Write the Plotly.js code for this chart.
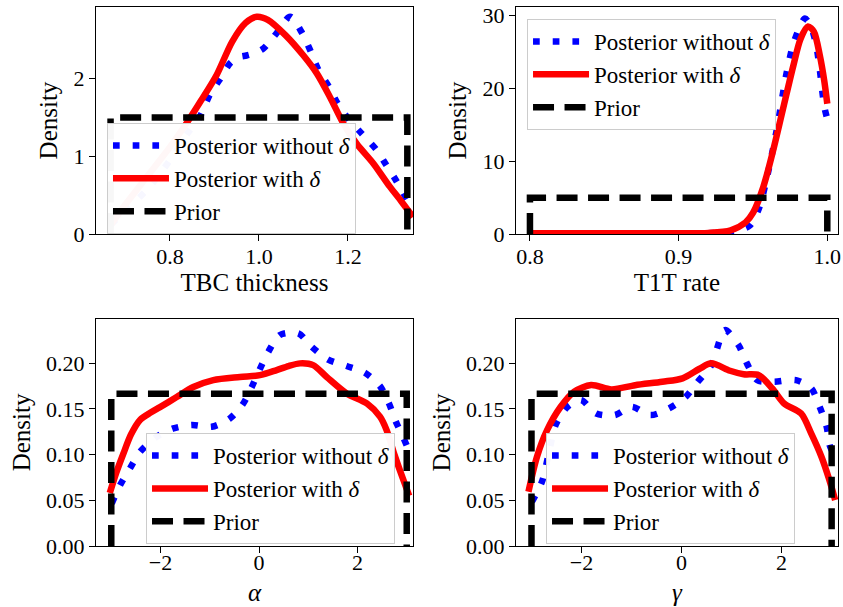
<!DOCTYPE html>
<html><head><meta charset="utf-8">
<script src="https://cdn.plot.ly/plotly-3.0.1.min.js"></script>
<style>html,body{margin:0;padding:0;background:#fff}</style>
</head><body><div id="chart" style="width:843px;height:607px"></div>
<script>
// ---- Panel 1: TBC thickness ----
const tbcWithoutX = [0.667, 0.70, 0.75, 0.80, 0.84, 0.867, 0.89, 0.912, 0.935, 0.955, 0.972, 0.99, 1.01, 1.04, 1.07, 1.096, 1.115, 1.134, 1.157, 1.176, 1.20, 1.23, 1.264, 1.286, 1.309, 1.333];
const tbcWithoutY = [0.12, 0.30, 0.58, 0.95, 1.30, 1.51, 1.80, 1.99, 2.20, 2.28, 2.30, 2.33, 2.39, 2.59, 2.80, 2.60, 2.37, 2.11, 1.90, 1.69, 1.49, 1.30, 1.085, 0.89, 0.68, 0.44];
const tbcWithX = [0.665, 0.70, 0.75, 0.80, 0.84, 0.87, 0.905, 0.94, 0.97, 0.995, 1.02, 1.06, 1.10, 1.13, 1.16, 1.19, 1.22, 1.257, 1.294, 1.32, 1.346];
const tbcWithY = [0.10, 0.38, 0.75, 1.12, 1.45, 1.72, 2.05, 2.48, 2.72, 2.80, 2.76, 2.56, 2.30, 2.07, 1.76, 1.42, 1.16, 0.91, 0.61, 0.42, 0.22];
const tbcPriorX = [0.6667, 0.6667, 1.3333, 1.3333];
const tbcPriorY = [0, 1.5, 1.5, 0];

// ---- Panel 2: T1T rate ----
const t1tWithoutX = [0.80, 0.90, 0.93, 0.94, 0.948, 0.954, 0.959, 0.966, 0.9725, 0.977, 0.981, 0.985, 0.989, 0.9925, 0.995, 0.998, 1.0];
const t1tWithoutY = [0.05, 0.05, 0.2, 0.5, 1.2, 3.5, 7.4, 14.3, 22.0, 26.0, 28.2, 29.6, 28.5, 26.0, 22.5, 17.5, 15.8];
const t1tWithX = [0.80, 0.85, 0.90, 0.92, 0.935, 0.945, 0.950, 0.957, 0.9636, 0.970, 0.977, 0.982, 0.987, 0.991, 0.995, 0.998, 1.0];
const t1tWithY = [0.1, 0.1, 0.1, 0.15, 0.5, 1.6, 2.9, 6.5, 11.5, 17.0, 23.0, 26.8, 28.5, 27.8, 24.5, 21.0, 17.9];
const t1tPriorX = [0.8, 0.8, 1.0, 1.0];
const t1tPriorY = [0, 5, 5, 0];

// ---- Panel 3: alpha ----
const alphaWithoutX = [-2.99, -2.82, -2.62, -2.416, -2.077, -1.74, -1.366, -0.96, -0.589, -0.319, -0.148, 0.02, 0.19, 0.426, 0.80, 1.07, 1.406, 1.78, 2.15, 2.457, 2.64, 2.78, 2.92, 3.0];
const alphaWithoutY = [0.0467, 0.0667, 0.085, 0.103, 0.1196, 0.1287, 0.1324, 0.1305, 0.1397, 0.156, 0.174, 0.194, 0.2126, 0.231, 0.2327, 0.218, 0.204, 0.197, 0.1896, 0.175, 0.156, 0.136, 0.12, 0.11];
const alphaWithX = [-3.03, -2.90, -2.755, -2.60, -2.416, -2.20, -2.01, -1.671, -1.334, -0.928, -0.386, 0.02, 0.36, 0.60, 0.832, 1.10, 1.375, 1.78, 2.19, 2.457, 2.59, 2.75, 2.90, 3.05];
const alphaWithY = [0.058, 0.080, 0.101, 0.122, 0.138, 0.146, 0.152, 0.163, 0.174, 0.1816, 0.185, 0.187, 0.1926, 0.197, 0.1999, 0.198, 0.185, 0.167, 0.156, 0.1415, 0.127, 0.10, 0.077, 0.055];
const alphaPriorX = [-3, -3, 3, 3];
const alphaPriorY = [0, 0.1667, 0.1667, 0];

// ---- Panel 4: gamma ----
const gammaWithoutX = [-2.99, -2.79, -2.66, -2.518, -2.28, -2.01, -1.705, -1.334, -0.995, -0.623, -0.25, 0.087, 0.325, 0.595, 0.867, 1.137, 1.306, 1.509, 1.848, 2.288, 2.593, 2.76, 2.90, 2.96, 3.0];
const gammaWithoutY = [0.0485, 0.0704, 0.100, 0.1324, 0.1524, 0.1597, 0.145, 0.1433, 0.1524, 0.1433, 0.1506, 0.1634, 0.1798, 0.198, 0.2363, 0.22, 0.1999, 0.1816, 0.1798, 0.1816, 0.1725, 0.1524, 0.1305, 0.1105, 0.105];
const gammaWithX = [-3.06, -2.89, -2.686, -2.416, -2.146, -1.807, -1.40, -0.928, -0.386, 0.02, 0.36, 0.595, 0.969, 1.24, 1.543, 1.813, 2.05, 2.39, 2.593, 2.796, 2.95, 3.07];
const gammaWithY = [0.0594, 0.0977, 0.127, 0.1524, 0.169, 0.1762, 0.1714, 0.176, 0.1798, 0.1835, 0.194, 0.1999, 0.1918, 0.188, 0.187, 0.1725, 0.156, 0.145, 0.123, 0.0977, 0.073, 0.0503];
const gammaPriorX = [-3, -3, 3, 3];
const gammaPriorY = [0, 0.1667, 0.1667, 0];

// ---- Ticks and labels ----
const tbcTicks = [0.8, 1.0, 1.2];
const tbcTickText = ["0.8", "1.0", "1.2"];
const tbcYTicks = [0, 1, 2];
const t1tTicks = [0.8, 0.9, 1.0];
const t1tTickText = ["0.8", "0.9", "1.0"];
const t1tYTicks = [0, 10, 20, 30];
const paramTicks = [-2, 0, 2];
const paramTickText = ["\u22122", "0", "2"];
const paramYTicks = [0, 0.05, 0.10, 0.15, 0.20];
const paramYTickText = ["0.00", "0.05", "0.10", "0.15", "0.20"];
const seriesNames = ["Posterior without <i>\u03b4</i>", "Posterior with <i>\u03b4</i>", "Prior"];
const xTitles = ["TBC thickness", "T1T rate", "<i>\u03b1</i>", "<i>\u03b3</i>"];

const FONT = 'Liberation Serif';
const panels = [
  {wo: [tbcWithoutX, tbcWithoutY], w: [tbcWithX, tbcWithY], p: [tbcPriorX, tbcPriorY]},
  {wo: [t1tWithoutX, t1tWithoutY], w: [t1tWithX, t1tWithY], p: [t1tPriorX, t1tPriorY]},
  {wo: [alphaWithoutX, alphaWithoutY], w: [alphaWithX, alphaWithY], p: [alphaPriorX, alphaPriorY]},
  {wo: [gammaWithoutX, gammaWithoutY], w: [gammaWithX, gammaWithY], p: [gammaPriorX, gammaPriorY]}
];

const traces = [];
panels.forEach((pn, i) => {
  const n = i === 0 ? '' : String(i + 1);
  const ax = {xaxis: 'x' + n, yaxis: 'y' + n, legend: 'legend' + n};
  traces.push(Object.assign({type: 'scatter', mode: 'lines', x: pn.wo[0], y: pn.wo[1], name: seriesNames[0],
    line: {color: '#0000ff', width: 6.5, dash: '6.7px,13px', shape: 'spline', smoothing: 0.8}}, ax));
  traces.push(Object.assign({type: 'scatter', mode: 'lines', x: pn.w[0], y: pn.w[1], name: seriesNames[1],
    line: {color: '#ff0000', width: 6.5, shape: 'spline', smoothing: 0.8}}, ax));
  traces.push(Object.assign({type: 'scatter', mode: 'lines', x: pn.p[0], y: pn.p[1], name: seriesNames[2],
    line: {color: '#000000', width: 6.5, dash: '21px,10.5px'}}, ax));
});

function xAx(domain, anchor, range, tv, tt, title, lblOff, tStand) {
  return {domain: domain, anchor: anchor, range: range, tickvals: tv, ticktext: tt,
    showline: true, mirror: true, linecolor: '#000', linewidth: 1, ticks: 'outside', ticklen: 6, tickwidth: 1, tickcolor: '#000',
    ticklabelstandoff: lblOff,
    showgrid: false, zeroline: false, tickfont: {family: FONT, size: 22, color: '#000'},
    title: {text: title, font: {family: FONT, size: 25, color: '#000'}, standoff: tStand}};
}
function yAx(domain, anchor, range, tv, tt) {
  return {domain: domain, anchor: anchor, range: range, tickvals: tv, ticktext: tt,
    showline: true, mirror: true, linecolor: '#000', linewidth: 1, ticks: 'outside', ticklen: 6, tickwidth: 1, tickcolor: '#000',
    showgrid: false, zeroline: false, tickfont: {family: FONT, size: 22, color: '#000'},
    title: {text: 'Density', font: {family: FONT, size: 25, color: '#000'}, standoff: 8}};
}
function leg(x, y) {
  return {x: x, y: y, xref: 'paper', yref: 'paper', xanchor: 'left', yanchor: 'top',
    bgcolor: 'rgba(255,255,255,0.97)', bordercolor: '#cccccc', borderwidth: 1,
    font: {family: FONT, size: 23, color: '#000'}, itemwidth: 56, tracegroupgap: 0};
}

const xL = [0, 0.4272], xR = [0.566, 1], yT = [0.5788, 1], yB = [0, 0.4212];
const layout = {
  width: 843, height: 607,
  margin: {l: 96, r: 5, t: 7, b: 61},
  paper_bgcolor: '#fff', plot_bgcolor: '#fff',
  font: {family: FONT, color: '#000'},
  showlegend: true,
  xaxis: xAx(xL, 'y', [0.634, 1.346], tbcTicks, tbcTickText, xTitles[0], -3, 4),
  yaxis: yAx(yT, 'x', [0, 2.925], tbcYTicks, tbcYTicks.map(String)),
  xaxis2: xAx(xR, 'y2', [0.7906, 1.0072], t1tTicks, t1tTickText, xTitles[1], -3, 4),
  yaxis2: yAx(yT, 'x2', [0, 31.19], t1tYTicks, t1tYTicks.map(String)),
  xaxis3: xAx(xL, 'y3', [-3.31, 3.127], paramTicks, paramTickText, xTitles[2], -9, 9),
  yaxis3: yAx(yB, 'x3', [0, 0.2485], paramYTicks, paramYTickText),
  xaxis4: xAx(xR, 'y4', [-3.31, 3.127], paramTicks, paramTickText, xTitles[3], -9, 9),
  yaxis4: yAx(yB, 'x4', [0, 0.2485], paramYTicks, paramYTickText),
  legend: leg(0.0148, 0.7848),
  legend2: leg(0.5809, 0.9777),
  legend3: leg(0.0674, 0.2096),
  legend4: leg(0.6065, 0.2096)
};

Plotly.newPlot('chart', traces, layout, {staticPlot: true, displayModeBar: false});
</script></body></html>
